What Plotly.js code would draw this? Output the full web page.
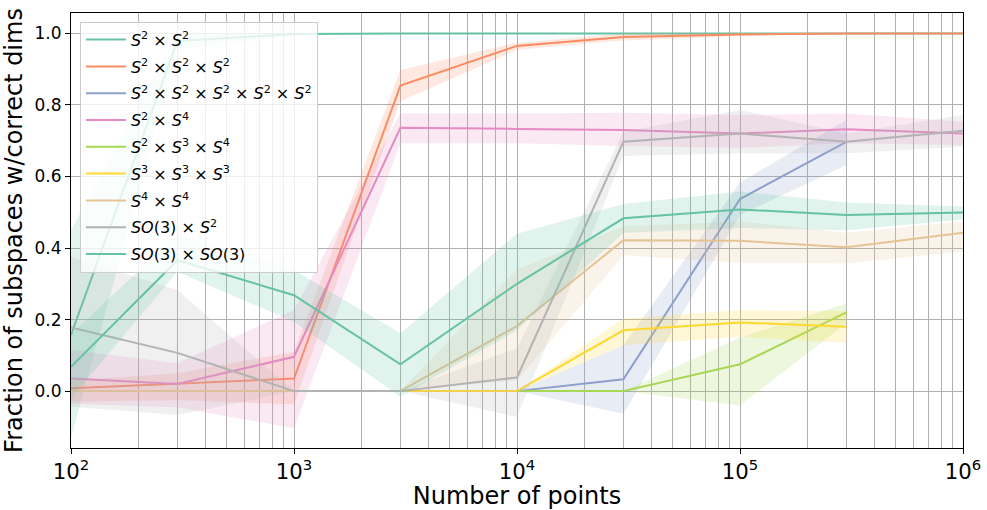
<!DOCTYPE html>
<html>
<head>
<meta charset="utf-8">
<script src="https://cdn.plot.ly/plotly-3.0.1.min.js"></script>
<style>
  html, body { margin: 0; padding: 0; background: #ffffff; }
  #chart { width: 987px; height: 510px; }
</style>
</head>
<body>
<div id="chart"></div>
<script>
const THEME = {
  ink: "#000000",
  grid: "#b0b0b0",
  fontFamily: "\"DejaVu Sans\", sans-serif",
};

// Set2 palette, cycling after 8 colours like matplotlib does
const COLORS = ["#66c2a5", "#fc8d62", "#8da0cb", "#e78ac3", "#a6d854", "#ffd92f", "#e5c494", "#b3b3b3", "#66c2a5"];

const N_POINTS = [100, 300, 1000, 3000, 10000, 30000, 100000, 300000, 1000000];

const LABELS = [
  "<i>S</i><sup>2</sup> × <i>S</i><sup>2</sup>",
  "<i>S</i><sup>2</sup> × <i>S</i><sup>2</sup> × <i>S</i><sup>2</sup>",
  "<i>S</i><sup>2</sup> × <i>S</i><sup>2</sup> × <i>S</i><sup>2</sup> × <i>S</i><sup>2</sup> × <i>S</i><sup>2</sup>",
  "<i>S</i><sup>2</sup> × <i>S</i><sup>4</sup>",
  "<i>S</i><sup>2</sup> × <i>S</i><sup>3</sup> × <i>S</i><sup>4</sup>",
  "<i>S</i><sup>3</sup> × <i>S</i><sup>3</sup> × <i>S</i><sup>3</sup>",
  "<i>S</i><sup>4</sup> × <i>S</i><sup>4</sup>",
  "<i>SO</i>(3) × <i>S</i><sup>2</sup>",
  "<i>SO</i>(3) × <i>SO</i>(3)",
];

// mean / lower / upper of the confidence band, per product space
const s2s2Mean = [0.157, 0.979, 0.998, 1.0, 1.0, 1.0, 1.0, 1.0, 1.0];
const s2s2Lo = [-0.13, 0.955, 0.994, 1.0, 1.0, 1.0, 1.0, 1.0, 1.0];
const s2s2Hi = [0.45, 1.0, 1.0, 1.0, 1.0, 1.0, 1.0, 1.0, 1.0];

const s2s2s2Mean = [0.008, 0.02, 0.035, 0.854, 0.965, 0.99, 0.997, 1.0, 1.0];
const s2s2s2Lo = [-0.03, -0.025, -0.037, 0.81, 0.954, 0.98, 0.993, 1.0, 1.0];
const s2s2s2Hi = [0.03, 0.05, 0.11, 0.898, 0.974, 1.0, 1.0, 1.0, 1.0];

const s2x5Mean = [0, 0, 0, 0, 0, 0.033, 0.537, 0.697];
const s2x5Lo = [0, 0, 0, 0, 0, -0.063, 0.492, 0.632];
const s2x5Hi = [0, 0, 0, 0, 0, 0.128, 0.583, 0.758];

const s2s4Mean = [0.035, 0.02, 0.096, 0.736, 0.733, 0.73, 0.72, 0.732, 0.72];
const s2s4Lo = [-0.035, -0.045, -0.104, 0.693, 0.693, 0.685, 0.68, 0.693, 0.688];
const s2s4Hi = [0.115, 0.078, 0.227, 0.776, 0.776, 0.778, 0.772, 0.776, 0.753];

const s2s3s4Mean = [0, 0, 0, 0, 0, 0, 0.075, 0.22];
const s2s3s4Lo = [0, 0, 0, 0, 0, 0, -0.04, 0.19];
const s2s3s4Hi = [0, 0, 0, 0, 0, 0, 0.15, 0.245];

const s3s3s3Mean = [0, 0, 0, 0, 0, 0.17, 0.192, 0.18];
const s3s3s3Lo = [0, 0, 0, 0, 0, 0.128, 0.152, 0.135];
const s3s3s3Hi = [0, 0, 0, 0, 0, 0.203, 0.226, 0.224];

const s4s4Mean = [0, 0, 0, 0, 0.182, 0.422, 0.42, 0.402, 0.443];
const s4s4Lo = [0, 0, 0, 0, 0.03, 0.38, 0.359, 0.357, 0.39];
const s4s4Hi = [0, 0, 0, 0, 0.34, 0.46, 0.474, 0.443, 0.474];

const so3s2Mean = [0.178, 0.107, 0, 0, 0.038, 0.697, 0.72, 0.697, 0.728];
const so3s2Lo = [-0.044, -0.067, 0, 0, -0.072, 0.657, 0.665, 0.665, 0.683];
const so3s2Hi = [0.375, 0.283, 0, 0, 0.12, 0.725, 0.786, 0.72, 0.772];

const so3so3Mean = [0.068, 0.366, 0.268, 0.075, 0.30, 0.483, 0.508, 0.492, 0.499];
const so3so3Lo = [-0.02, 0.334, 0.194, -0.016, 0.17, 0.443, 0.456, 0.45, 0.48];
const so3so3Hi = [0.16, 0.437, 0.338, 0.162, 0.44, 0.523, 0.558, 0.527, 0.516];

const SERIES = [
  [s2s2Mean, s2s2Lo, s2s2Hi],
  [s2s2s2Mean, s2s2s2Lo, s2s2s2Hi],
  [s2x5Mean, s2x5Lo, s2x5Hi],
  [s2s4Mean, s2s4Lo, s2s4Hi],
  [s2s3s4Mean, s2s3s4Lo, s2s3s4Hi],
  [s3s3s3Mean, s3s3s3Lo, s3s3s3Hi],
  [s4s4Mean, s4s4Lo, s4s4Hi],
  [so3s2Mean, so3s2Lo, so3s2Hi],
  [so3so3Mean, so3so3Lo, so3so3Hi],
];

function hexToRgba(hex, alpha) {
  const n = parseInt(hex.slice(1), 16);
  return `rgba(${(n >> 16) & 255}, ${(n >> 8) & 255}, ${n & 255}, ${alpha})`;
}

function bandTrace(lo, hi, color, group) {
  const xs = N_POINTS.slice(0, hi.length);
  return {
    type: "scatter",
    mode: "lines",
    x: xs.concat(xs.slice().reverse()),
    y: hi.concat(lo.slice().reverse()),
    fill: "toself",
    fillcolor: hexToRgba(color, 0.2),
    line: { width: 0 },
    legendgroup: group,
    showlegend: false,
    hoverinfo: "skip",
  };
}

function lineTrace(mean, color, name, group) {
  return {
    type: "scatter",
    mode: "lines",
    x: N_POINTS.slice(0, mean.length),
    y: mean,
    name,
    legendgroup: group,
    line: { color, width: 2 },
  };
}

const traces = [];
SERIES.forEach(([mean, lo, hi], i) => {
  traces.push(lineTrace(mean, COLORS[i], LABELS[i], "g" + i));
  traces.push(bandTrace(lo, hi, COLORS[i], "g" + i));
});

const layout = {
  width: 987,
  height: 510,
  paper_bgcolor: "#ffffff",
  plot_bgcolor: "#ffffff",
  font: { family: THEME.fontFamily, color: THEME.ink, size: 17 },
  margin: { l: 71, r: 24, t: 13, b: 62 },
  showlegend: true,
  legend: {
    x: 0.01,
    y: 0.98,
    xanchor: "left",
    yanchor: "top",
    bgcolor: "rgba(255,255,255,0.8)",
    bordercolor: "#cccccc",
    borderwidth: 1,
    font: { size: 16 },
    itemwidth: 40,
    traceorder: "grouped",
    tracegroupgap: 3,
  },
  xaxis: {
    type: "log",
    range: [2, 6],
    dtick: 1,
    exponentformat: "power",
    showgrid: true,
    gridcolor: THEME.grid,
    gridwidth: 1,
    minor: { dtick: "D1", showgrid: true, gridcolor: THEME.grid, gridwidth: 1, ticks: "" },
    showline: true,
    mirror: true,
    linecolor: THEME.ink,
    linewidth: 1,
    ticks: "outside",
    ticklen: 5,
    tickcolor: THEME.ink,
    zeroline: false,
    tickfont: { size: 17 },
    title: { text: "Number of points", font: { size: 24 }, standoff: 4 },
  },
  yaxis: {
    range: [-0.159, 1.057],
    dtick: 0.2,
    tick0: 0,
    tickformat: ".1f",
    showgrid: true,
    gridcolor: THEME.grid,
    gridwidth: 1,
    showline: true,
    mirror: true,
    linecolor: THEME.ink,
    linewidth: 1,
    ticks: "outside",
    ticklen: 5,
    tickcolor: THEME.ink,
    zeroline: false,
    tickfont: { size: 17 },
    title: { text: "Fraction of subspaces w/correct dims", font: { size: 24 }, standoff: 6 },
  },
};

Plotly.newPlot("chart", traces, layout, { displayModeBar: false, staticPlot: true });
</script>
</body>
</html>
